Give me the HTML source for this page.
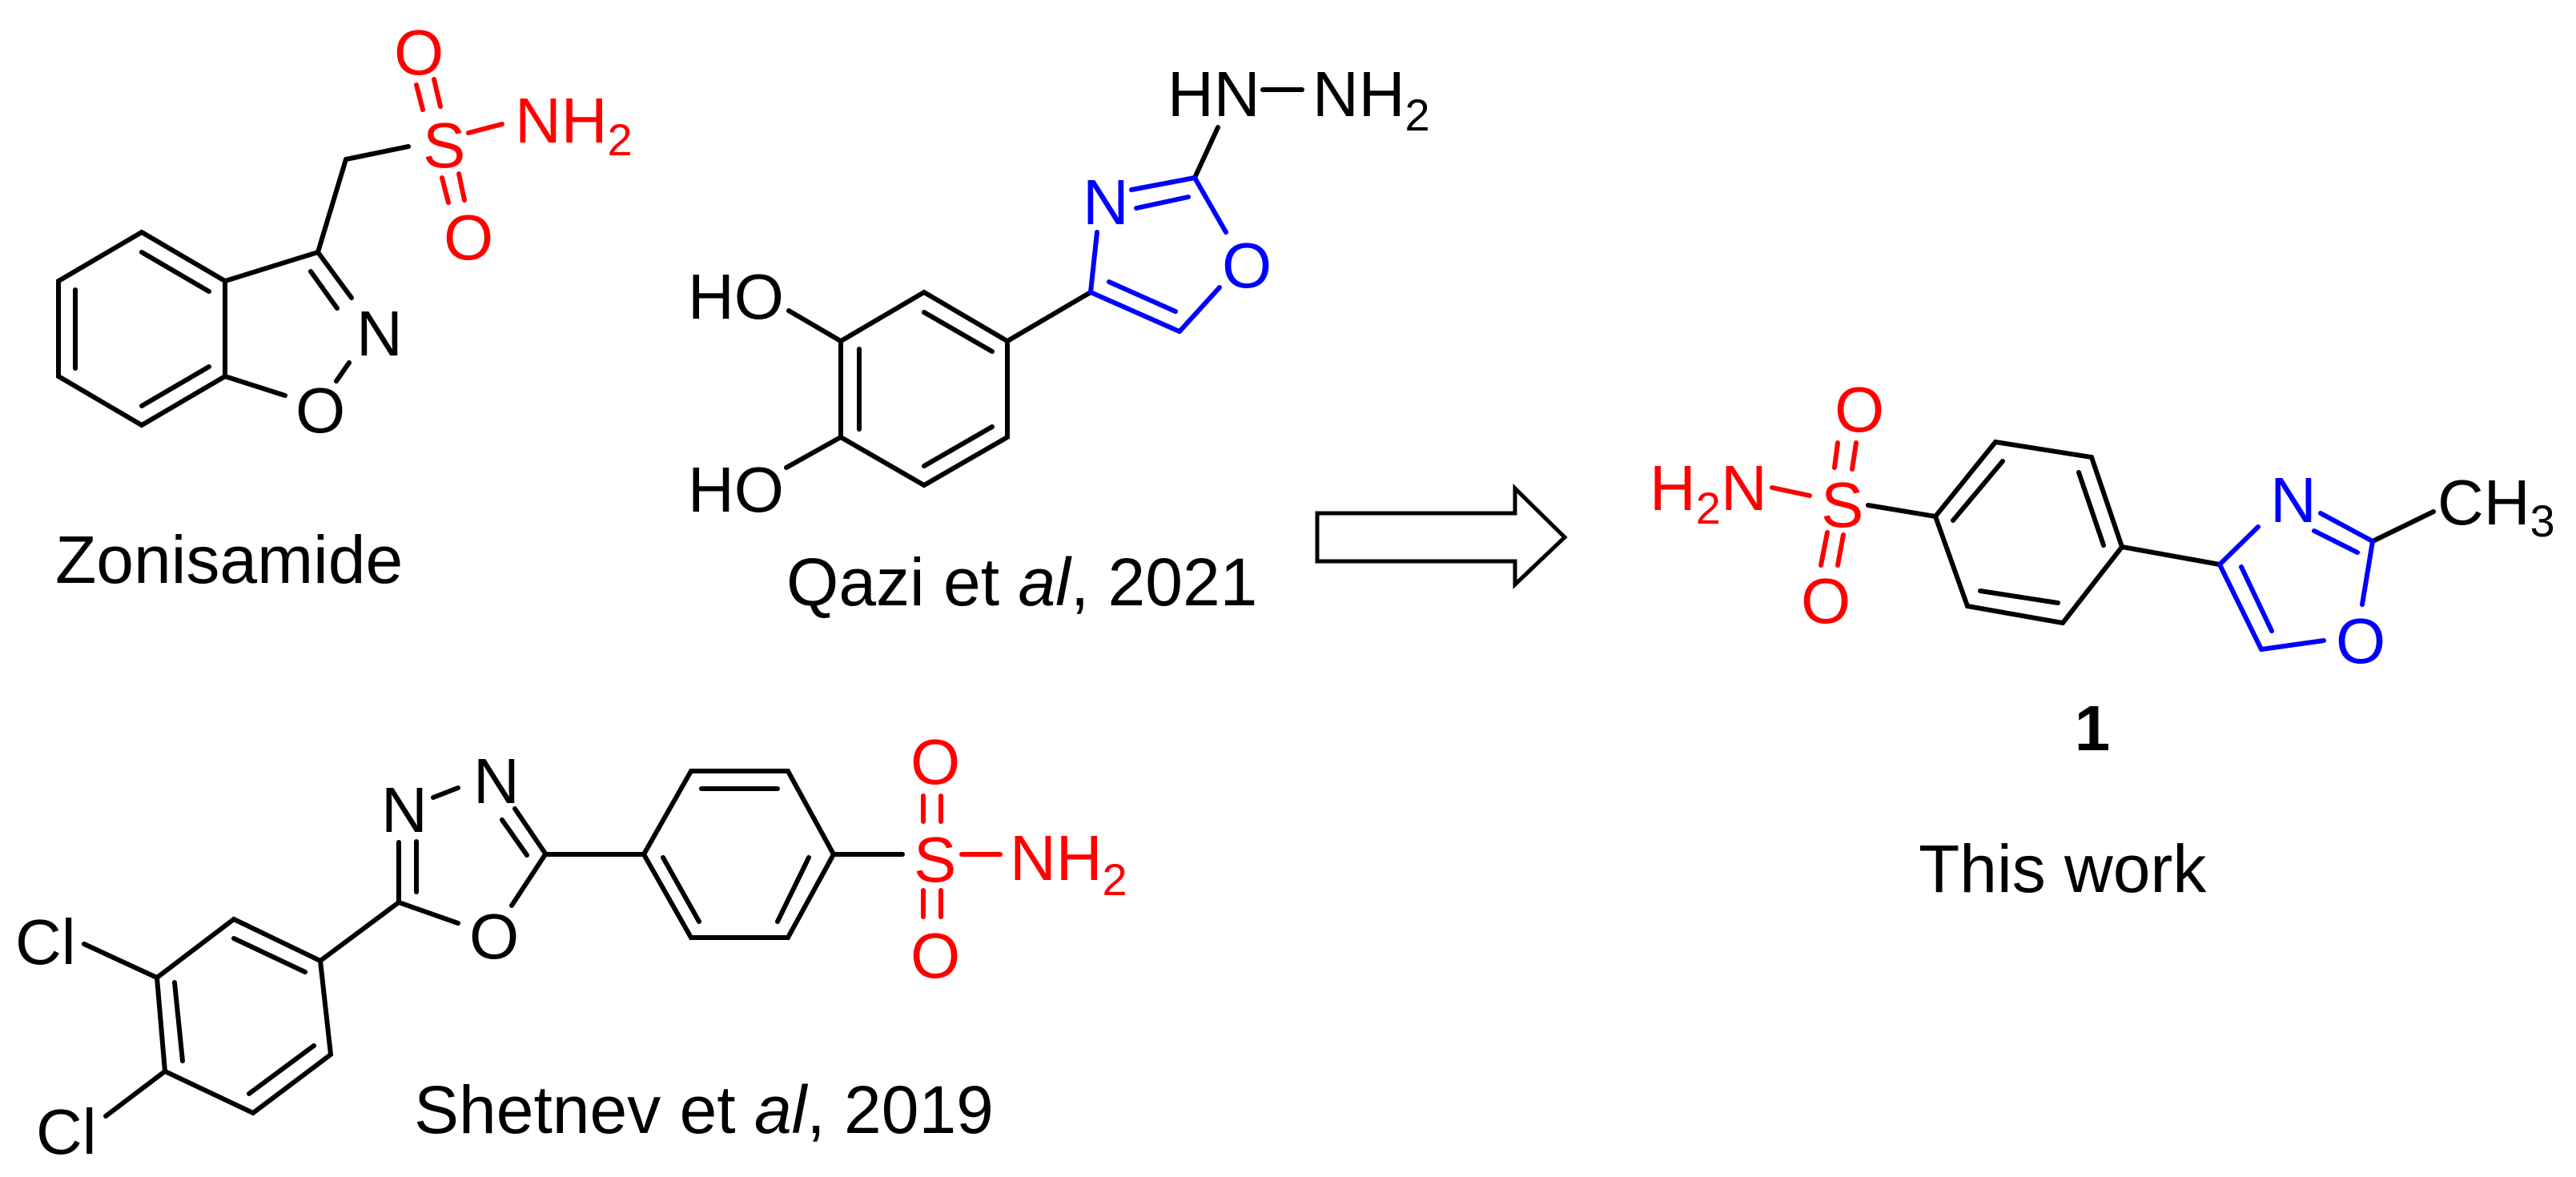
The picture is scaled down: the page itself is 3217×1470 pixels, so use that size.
<!DOCTYPE html>
<html><head><meta charset="utf-8"><style>
html,body{margin:0;padding:0;background:#fff;}
svg{display:block;}
text{font-family:"Liberation Sans",Arial,sans-serif;font-size:80px;}
.r{fill:#ff0000;} .b{fill:#0000ff;} .k{fill:#000;}
.cap{font-size:84px;}
</style></head><body>
<svg width="3217" height="1470" viewBox="0 0 3217 1470" xmlns="http://www.w3.org/2000/svg">
<g stroke="#000" stroke-width="6" fill="none" stroke-linecap="round">
<!-- Zonisamide -->
<polygon points="177,290 281,351 281,470 177,531 73,470 73,351"/>
<line x1="177" y1="315" x2="261" y2="364"/>
<line x1="94" y1="362" x2="94" y2="460"/>
<line x1="177" y1="507" x2="261" y2="458"/>
<line x1="281" y1="351" x2="397" y2="315"/>
<line x1="397" y1="315" x2="439" y2="372"/>
<line x1="388" y1="339" x2="421" y2="385"/>
<line x1="436" y1="453" x2="420" y2="476"/>
<line x1="281" y1="470" x2="356" y2="494"/>
<line x1="397" y1="315" x2="432" y2="199"/>
<line x1="432" y1="199" x2="510" y2="183"/>
</g>
<g stroke="#ff0000" stroke-width="6" stroke-linecap="round">
<line x1="585" y1="166" x2="627" y2="155"/>
<line x1="520" y1="106" x2="528" y2="137"/>
<line x1="542" y1="99" x2="550" y2="133"/>
<line x1="552" y1="222" x2="560" y2="253"/>
<line x1="573" y1="217" x2="580" y2="250"/>
</g>
<text class="k" x="445" y="444">N</text>
<text class="k" x="369" y="540">O</text>
<text class="r" x="528" y="209">S</text>
<text class="r" x="492" y="93">O</text>
<text class="r" x="554" y="324">O</text>
<text class="r" x="643" y="178">NH<tspan font-size="56" dy="16">2</tspan></text>
<text class="k cap" x="69" y="728">Zonisamide</text>

<!-- Qazi -->
<g stroke="#000" stroke-width="6" fill="none" stroke-linecap="round">
<polygon points="1258,426 1258,546 1154,606 1050,546 1050,426 1154,365"/>
<line x1="1154" y1="390" x2="1239" y2="439"/>
<line x1="1073" y1="436" x2="1073" y2="536"/>
<line x1="1154" y1="582" x2="1239" y2="533"/>
<line x1="1362" y1="365" x2="1258" y2="426"/>
<line x1="985" y1="388" x2="1050" y2="426"/>
<line x1="982" y1="584" x2="1050" y2="546"/>
<line x1="1521" y1="159" x2="1492" y2="222"/>
<line x1="1577" y1="112" x2="1626" y2="112"/>
</g>
<g stroke="#0000ff" stroke-width="6" fill="none" stroke-linecap="round">
<line x1="1492" y1="222" x2="1413" y2="237"/>
<line x1="1484" y1="246" x2="1419" y2="260"/>
<line x1="1370" y1="290" x2="1362" y2="365"/>
<line x1="1362" y1="365" x2="1473" y2="414"/>
<line x1="1385" y1="352" x2="1468" y2="389"/>
<line x1="1473" y1="414" x2="1523" y2="359"/>
<line x1="1531" y1="290" x2="1492" y2="222"/>
</g>
<text class="b" x="1352" y="280">N</text>
<text class="b" x="1526" y="359">O</text>
<text class="k" x="1458" y="145">HN</text>
<text class="k" x="1639" y="145">NH<tspan font-size="56" dy="18">2</tspan></text>
<text class="k" x="859" y="398">HO</text>
<text class="k" x="859" y="639">HO</text>
<text class="k cap" x="982" y="756">Qazi et <tspan font-style="italic">al</tspan>, 2021</text>

<!-- Arrow -->
<polygon points="1645,641 1892,641 1892,610 1954,671 1892,730 1892,701 1645,701" fill="none" stroke="#000" stroke-width="5" stroke-linejoin="miter"/>

<!-- Shetnev -->
<g stroke="#000" stroke-width="6" fill="none" stroke-linecap="round">
<polygon points="292,1148 400,1200 413,1317 316,1390 206,1338 196,1221"/>
<line x1="292" y1="1172" x2="381" y2="1214"/>
<line x1="218" y1="1227" x2="228" y2="1325"/>
<line x1="311" y1="1366" x2="392" y2="1306"/>
<line x1="105" y1="1179" x2="196" y2="1221"/>
<line x1="206" y1="1338" x2="132" y2="1394"/>
<line x1="400" y1="1200" x2="498" y2="1127"/>
<line x1="498" y1="1127" x2="498" y2="1052"/>
<line x1="520" y1="1114" x2="520" y2="1051"/>
<line x1="541" y1="996" x2="572" y2="984"/>
<line x1="643" y1="1010" x2="681" y2="1066"/>
<line x1="627" y1="1024" x2="658" y2="1068"/>
<line x1="681" y1="1067" x2="639" y2="1131"/>
<line x1="572" y1="1153" x2="498" y2="1127"/>
<line x1="681" y1="1067" x2="804" y2="1067"/>
<polygon points="804,1067 863,963 984,963 1041,1067 984,1171 863,1171"/>
<line x1="876" y1="985" x2="971" y2="985"/>
<line x1="1010" y1="1071" x2="971" y2="1151"/>
<line x1="828" y1="1071" x2="873" y2="1151"/>
<line x1="1041" y1="1067" x2="1127" y2="1067"/>
</g>
<g stroke="#ff0000" stroke-width="6" stroke-linecap="round">
<line x1="1201" y1="1067" x2="1249" y2="1067"/>
<line x1="1153" y1="994" x2="1153" y2="1026"/>
<line x1="1175" y1="994" x2="1175" y2="1026"/>
<line x1="1153" y1="1112" x2="1153" y2="1145"/>
<line x1="1175" y1="1112" x2="1175" y2="1145"/>
</g>
<text class="k" x="19" y="1204">Cl</text>
<text class="k" x="45" y="1441">Cl</text>
<text class="k" x="476" y="1039">N</text>
<text class="k" x="591" y="1003">N</text>
<text class="k" x="586" y="1197">O</text>
<text class="r" x="1141" y="1101">S</text>
<text class="r" x="1137" y="979">O</text>
<text class="r" x="1137" y="1221">O</text>
<text class="r" x="1261" y="1099">NH<tspan font-size="56" dy="19">2</tspan></text>
<text class="k cap" x="517" y="1415">Shetnev et <tspan font-style="italic">al</tspan>, 2019</text>

<!-- This work -->
<g stroke="#000" stroke-width="6" fill="none" stroke-linecap="round">
<line x1="2333" y1="631" x2="2417" y2="645"/>
<polygon points="2417,645 2492,552 2612,571 2650,683 2576,778 2457,757"/>
<line x1="2501" y1="576" x2="2439" y2="650"/>
<line x1="2596" y1="590" x2="2627" y2="681"/>
<line x1="2473" y1="738" x2="2570" y2="753"/>
<line x1="2650" y1="683" x2="2772" y2="705"/>
<line x1="2963" y1="676" x2="3039" y2="639"/>
</g>
<g stroke="#ff0000" stroke-width="6" stroke-linecap="round">
<line x1="2213" y1="609" x2="2260" y2="619"/>
<line x1="2295" y1="553" x2="2291" y2="584"/>
<line x1="2318" y1="553" x2="2313" y2="586"/>
<line x1="2282" y1="665" x2="2274" y2="706"/>
<line x1="2302" y1="668" x2="2295" y2="706"/>
</g>
<g stroke="#0000ff" stroke-width="6" fill="none" stroke-linecap="round">
<line x1="2772" y1="705" x2="2820" y2="658"/>
<line x1="2898" y1="641" x2="2963" y2="676"/>
<line x1="2890" y1="663" x2="2944" y2="690"/>
<line x1="2963" y1="676" x2="2950" y2="755"/>
<line x1="2902" y1="800" x2="2824" y2="811"/>
<line x1="2824" y1="811" x2="2772" y2="705"/>
<line x1="2837" y1="788" x2="2799" y2="708"/>
</g>
<text class="r" x="2060" y="637">H<tspan font-size="56" dy="17">2</tspan><tspan dy="-17">N</tspan></text>
<text class="r" x="2274" y="658">S</text>
<text class="r" x="2291" y="539">O</text>
<text class="r" x="2249" y="778">O</text>
<text class="b" x="2835" y="652">N</text>
<text class="b" x="2917" y="828">O</text>
<text class="k" x="3044" y="655">CH<tspan font-size="56" dy="15">3</tspan></text>
<text class="k" x="2613" y="937" text-anchor="middle" font-weight="bold">1</text>
<text class="k cap" x="2396" y="1114">This work</text>
</svg>
</body></html>
